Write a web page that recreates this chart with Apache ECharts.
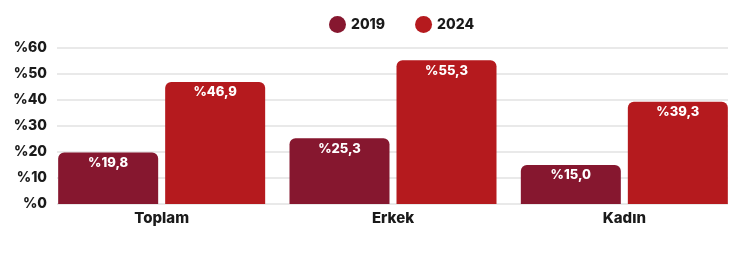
<!DOCTYPE html>
<html>
<head>
<meta charset="utf-8">
<script src="https://cdn.jsdelivr.net/npm/echarts@6/dist/echarts.min.js"></script>
<style>html,body{margin:0;padding:0;background:#fff}#c{width:744px;height:255px}</style>
</head>
<body>
<div id="c"></div>
<script>
const categories = ['Toplam', 'Erkek', 'Kadın'];
const series2019 = [19.8, 25.3, 15.0];
const series2024 = [46.9, 55.3, 39.3];
const seriesNames = ['2019', '2024'];
const yTicks = [0, 10, 20, 30, 40, 50, 60];

const FONT = 'Inter, "Noto Sans", sans-serif';
const chart = echarts.init(document.getElementById('c'));
const fmt = v => '%' + v.toFixed(1).replace('.', ',');
chart.setOption({
  animation: false,
  legend: {
    left: 324, top: 11,
    icon: 'circle', itemWidth: 17, itemHeight: 17, itemGap: 30,
    textStyle: { fontFamily: FONT, fontWeight: 800, fontSize: 14, color: '#1a1a1a' },
    data: seriesNames
  },
  grid: [
    { left: 46, right: 4, top: 48, bottom: 51 },
    { left: 57, right: 16, top: 48, bottom: 51 }
  ],
  xAxis: [
    { type: 'category', data: categories, gridIndex: 0,
      axisLine: { show: false }, axisTick: { show: false },
      axisLabel: { fontFamily: FONT, fontWeight: 800, fontSize: 15, color: '#1a1a1a', margin: 7 } },
    { type: 'category', data: categories, gridIndex: 1, show: false }
  ],
  yAxis: [
    { type: 'value', gridIndex: 0, min: yTicks[0], max: yTicks[yTicks.length-1], interval: 10,
      splitLine: { show: false }, axisLine: { show: false }, axisTick: { show: false },
      axisLabel: { show: false } },
    { type: 'value', gridIndex: 1, min: yTicks[0], max: yTicks[yTicks.length-1], interval: 10,
      splitLine: { show: true, lineStyle: { color: '#e2e2e2', width: 1.5 } },
      axisLine: { show: false }, axisTick: { show: false },
      axisLabel: { formatter: v => '%' + v, fontFamily: FONT, fontWeight: 800, fontSize: 14, color: '#1a1a1a', margin: 10 } }
  ],
  series: [
    { name: seriesNames[0], type: 'bar', data: series2019, barWidth: 100, barGap: '7%',
      xAxisIndex: 0, yAxisIndex: 0, z: 3,
      itemStyle: { color: '#86172f', borderRadius: [6, 6, 0, 0] },
      label: { show: true, position: 'insideTop', distance: 4, formatter: p => fmt(p.value),
        fontFamily: FONT, fontWeight: 800, fontSize: 13, color: '#fff' } },
    { name: seriesNames[1], type: 'bar', data: series2024, barWidth: 100,
      xAxisIndex: 0, yAxisIndex: 0, z: 3,
      itemStyle: { color: '#b51a1e', borderRadius: [6, 6, 0, 0] },
      label: { show: true, position: 'insideTop', distance: 4, formatter: p => fmt(p.value),
        fontFamily: FONT, fontWeight: 800, fontSize: 13, color: '#fff' } }
  ]
});
</script>
</body>
</html>
